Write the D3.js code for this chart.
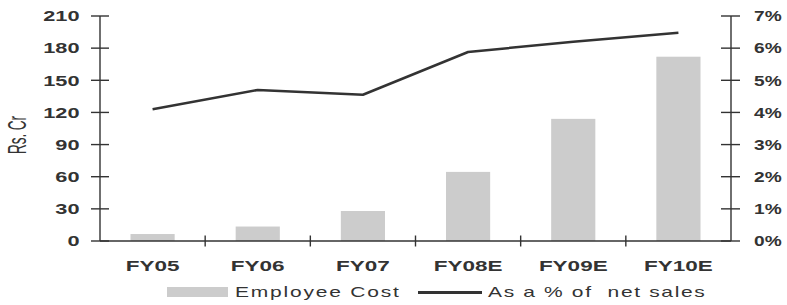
<!DOCTYPE html>
<html><head><meta charset="utf-8">
<script src="https://cdn.jsdelivr.net/npm/d3@7/dist/d3.min.js"></script>
<style>body{margin:0;background:#fff}svg{display:block}</style>
</head><body>
<svg id="chart" width="787" height="305"></svg>
<script>
const categories = ["FY05","FY06","FY07","FY08E","FY09E","FY10E"];
const employeeCost = [6.5, 13.5, 28, 64.5, 114, 172];
const pctNetSales = [4.1, 4.7, 4.55, 5.88, 6.2, 6.48];
const leftTicks = [0,30,60,90,120,150,180,210];
const rightTicks = [0,1,2,3,4,5,6,7];
const leftLabel = "Rs. Cr";
const legendLabels = ["Employee Cost", "As a % of  net sales"];

const svg = d3.select("#chart");
const L = 100, R = 731, T = 16, B = 241;
const SX = 1.5;
const ink = "#333333", barColor = "#cccccc";
const font = "'Liberation Sans', Arial, sans-serif";

const x = d3.scaleBand().domain(categories).range([L, R]).paddingInner(0.58).paddingOuter(0.29);
const xb = d3.scaleLinear().domain([0, categories.length]).range([L, R]);
const yL = d3.scaleLinear().domain([0, 210]).range([B, T]);
const yR = d3.scaleLinear().domain([0, 7]).range([B, T]);

function stext(g, str, px, py, anchor, opts) {
  const t = g.append("text")
    .attr("transform", `translate(${px},${py}) scale(${opts.sx||SX},1)` + (opts.rot ? ` rotate(${opts.rot})` : ""))
    .attr("text-anchor", anchor)
    .attr("font-family", font)
    .attr("font-size", opts.size)
    .attr("font-weight", opts.weight || "normal")
    .attr("fill", ink)
    .style("white-space", "pre")
    .text(str);
  if (opts.ls) t.attr("letter-spacing", opts.ls);
  return t;
}

// bars
svg.append("g").selectAll("rect").data(employeeCost).join("rect")
  .attr("x", (d,i) => x(categories[i]))
  .attr("width", x.bandwidth())
  .attr("y", d => yL(d))
  .attr("height", d => B - yL(d))
  .attr("fill", barColor);

// line
const line = d3.line().x((d,i) => x(categories[i]) + x.bandwidth()/2).y(d => yR(d));
svg.append("path").datum(pctNetSales).attr("d", line)
  .attr("fill", "none").attr("stroke", ink).attr("stroke-width", 2.5).attr("stroke-linejoin", "round");

// axes
const ax = svg.append("g").attr("stroke", ink).attr("stroke-width", 1.4);
ax.append("line").attr("x1", L).attr("x2", L).attr("y1", T).attr("y2", B);
ax.append("line").attr("x1", R).attr("x2", R).attr("y1", T).attr("y2", B);
ax.append("line").attr("x1", L).attr("x2", R).attr("y1", B).attr("y2", B);
ax.selectAll(".tl").data(leftTicks).join("line")
  .attr("x1", L-9).attr("x2", L+9).attr("y1", d => yL(d)).attr("y2", d => yL(d));
ax.selectAll(".tr").data(rightTicks).join("line").attr("class","tr")
  .attr("x1", R-10).attr("x2", R+9).attr("y1", d => yR(d)).attr("y2", d => yR(d));
ax.selectAll(".tx").data(d3.range(1, categories.length)).join("line").attr("class","tx")
  .attr("x1", d => xb(d)).attr("x2", d => xb(d)).attr("y1", B-5.5).attr("y2", B+5.5);

const tg = svg.append("g");
leftTicks.forEach(v => stext(tg, String(v), 79.5, yL(v)+5.3, "end", {size:14.5, weight:"bold"}));
rightTicks.forEach(v => stext(tg, v + "%", 754, yR(v)+5.3, "start", {size:14.5, weight:"bold", sx:1.32}));
categories.forEach(c => stext(tg, c, x(c)+x.bandwidth()/2, 270.7, "middle", {size:15, weight:"bold"}));
stext(tg, leftLabel, 25.5, 135, "middle", {size:13.5, rot:-90, sx:1.85});

// legend
const lg = svg.append("g");
lg.append("rect").attr("x", 167).attr("y", 287).attr("width", 61).attr("height", 10).attr("fill", barColor);
stext(lg, legendLabels[0], 235, 297, "start", {size:14, ls:1.2, sx:1.5});
lg.append("line").attr("x1", 418).attr("x2", 482).attr("y1", 292.5).attr("y2", 292.5)
  .attr("stroke", ink).attr("stroke-width", 3);
stext(lg, legendLabels[1], 488, 297, "start", {size:14, ls:1.1, sx:1.5});
</script>
</body></html>
